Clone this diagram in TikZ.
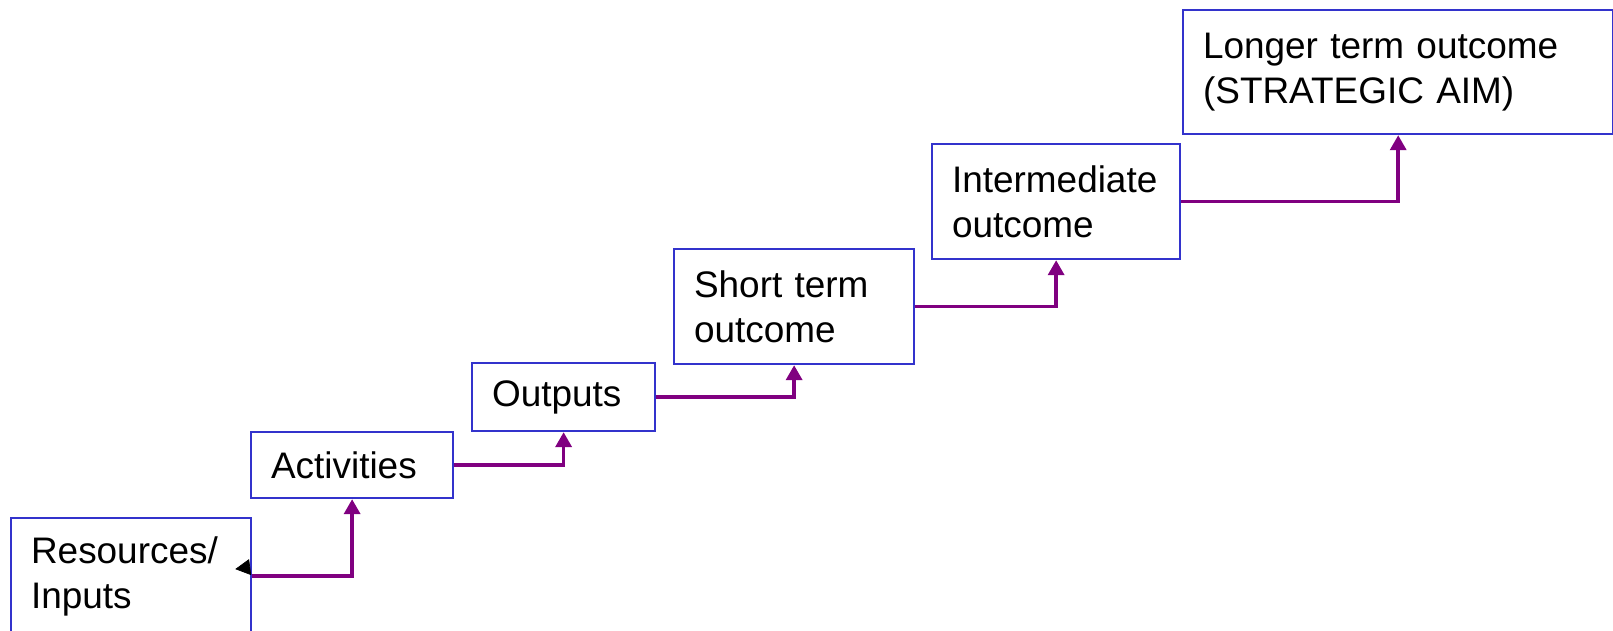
\documentclass[tikz,border=0pt]{standalone}
\usepackage{fontspec}
\setmainfont{Liberation Sans}
\usetikzlibrary{arrows.meta, calc}

\definecolor{boxblue}{HTML}{3333CC}
\definecolor{linkpurple}{HTML}{800080}

\begin{document}
\begin{tikzpicture}[x=0.01cm, y=-0.01cm,
    stepbox/.style={draw=boxblue, line width=0.6pt, anchor=north west, inner xsep=0.2cm, inner ysep=0pt, align=left, font=\fontsize{10.5}{12.8}\selectfont, execute at begin node={\hyphenpenalty=10000\relax}},
    link/.style={draw=linkpurple, line width=1pt, -{Triangle[length=0.15cm, width=0.16cm]}}]
    \useasboundingbox (0, 0) rectangle (1613, 630);
    \node[stepbox, minimum width=2.40cm, minimum height=1.16cm, text width=2.00cm] (res) at (10, 517) {Resources/\\Inputs};
    \node[stepbox, minimum width=2.02cm, minimum height=0.66cm, text width=1.62cm] (act) at (250, 431) {Activities};
    \node[stepbox, minimum width=1.83cm, minimum height=0.68cm, text width=1.43cm] (out) at (471, 362) {Outputs};
    \node[stepbox, minimum width=2.40cm, minimum height=1.15cm, text width=2.00cm] (sho) at (673, 248) {Short term\\outcome};
    \node[stepbox, minimum width=2.48cm, minimum height=1.15cm, text width=2.08cm] (int) at (931, 143) {Intermediate\\outcome};
    \node[stepbox, minimum width=4.30cm, minimum height=1.24cm, text width=3.90cm] (lon) at (1182, 9) {Longer term outcome\\(STRATEGIC AIM)};
    % stray black tip at the start of the first link
    \coordinate (tipbase) at ($(res.east)+(-2, -9)$);
    \coordinate (tiptip) at ($(res.east)+(-17, -7)$);
    \draw[black, line width=0.2pt, -{Triangle[length=0.15cm, width=0.16cm]}] (tipbase) -- (tiptip);
    \draw[link] (res.east) -| (act.south);
    \draw[link] (act.east) -| (out.south);
    \draw[link] (out.east) -| (sho.south);
    \draw[link] (sho.east) -| (int.south);
    \draw[link] (int.east) -| (lon.south);
\end{tikzpicture}
\end{document}
